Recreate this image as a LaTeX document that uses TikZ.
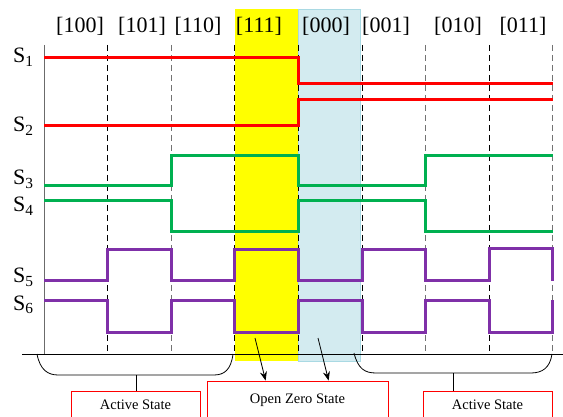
\documentclass[tikz,border=0pt]{standalone}
\usepackage{fontspec}
\setmainfont{Liberation Serif}
\usepackage{tikz}
\usetikzlibrary{
  arrows.meta,
  positioning,
  calc
}
\definecolor{swRed}{HTML}{FF0000}
\definecolor{swGreen}{HTML}{00B050}
\definecolor{swPurple}{HTML}{7F30A8}
\definecolor{swYellow}{HTML}{FFFF00}
\definecolor{swCyan}{HTML}{D3EBF0}
\definecolor{swCyanEdge}{HTML}{A9D9E3}
\definecolor{swAxis}{HTML}{6B6B6B}
\tikzset{
  sig/.style={line width=3pt, line join=miter},
  slot/.style={black, line width=0.8pt, dash pattern=on 6pt off 4pt},
  slotgray/.style={slot, black!55, line width=1.2pt},
  vec/.style={font=\fontsize{22}{26}\selectfont, anchor=base, inner sep=0pt},
  sw/.style={font=\fontsize{22}{26}\selectfont, anchor=base west, inner sep=0pt},
  statebox/.style={
    draw=swRed, line width=0.8pt, minimum height=28pt,
    font=\fontsize{14.5}{16}\selectfont, align=center
  },
  bracket/.style={line width=0.8pt, black},
  zarrow/.style={-{Stealth[length=9pt, width=7pt]}, line width=0.8pt}
}
\begin{document}
\begin{tikzpicture}[x=1pt, y=-1pt]
  \useasboundingbox (0,0) rectangle (563,417);
  \clip (0,0) rectangle (563,417);
  % zero vector intervals
  \fill[swYellow] (234.8,9) rectangle (298.4,361);
  \filldraw[fill=swCyan, draw=swCyanEdge] (298.4,9) rectangle (360,361);
  % switching instants
  \foreach \gx in {107.6,234.8,298.4,362,489.2}
    \draw[slot] (\gx,45) -- (\gx,354);
  \foreach \gx in {171.2,425.6,552.8}
    \draw[slotgray] (\gx,45) -- (\gx,354);
  \draw[swAxis, line width=1pt] (44,45) -- (44,354);
  \draw[line width=0.8pt] (22,354) -- (563,354);
  % state vectors
  \node[vec] (v100) at (80,33) {[100]};
  \node[vec] (v101) at (142,33) {[101]};
  \node[vec] (v110) at (198,33) {[110]};
  \node[vec] (v111) at (259,33) {[111]};
  \node[vec] (v000) at (326,33) {[000]};
  \node[vec] (v001) at (386,33) {[001]};
  \node[vec] (v010) at (458,33) {[010]};
  \node[vec] (v011) at (523,33) {[011]};
  % switch names
  \node[sw] (s1) at (13,63) {S\textsubscript{1}};
  \node[sw] (s2) at (13,132) {S\textsubscript{2}};
  \node[sw] (s3) at (13,185) {S\textsubscript{3}};
  \node[sw] (s4) at (13,212) {S\textsubscript{4}};
  \node[sw] (s5) at (13,283) {S\textsubscript{5}};
  \node[sw] (s6) at (13,310) {S\textsubscript{6}};
  % gate signals
  \draw[sig, swRed] (44,58) -- (298.4,58) -- (298.4,84) -- (552.8,84);
  \draw[sig, swRed] (44,126) -- (298.4,126) -- (298.4,100) -- (552.8,100);
  \draw[sig, swGreen] (44,186) -- (171.2,186) -- (171.2,156) -- (298.4,156)
    -- (298.4,186) -- (425.6,186) -- (425.6,156) -- (552.8,156);
  \draw[sig, swGreen] (44,201) -- (171.2,201) -- (171.2,232) -- (298.4,232)
    -- (298.4,201) -- (425.6,201) -- (425.6,232) -- (552.8,232);
  \draw[sig, swPurple] (44,281) -- (107.6,281) -- (107.6,250) -- (171.2,250)
    -- (171.2,281) -- (234.8,281) -- (234.8,250) -- (298.4,250) -- (298.4,281)
    -- (362,281) -- (362,250) -- (425.6,250) -- (425.6,281) -- (489.2,281)
    -- (489.2,249) -- (552.8,249) -- (552.8,281);
  \draw[sig, swPurple] (44,300) -- (107.6,300) -- (107.6,332) -- (171.2,332)
    -- (171.2,300) -- (234.8,300) -- (234.8,332) -- (298.4,332) -- (298.4,300)
    -- (362,300) -- (362,332) -- (425.6,332) -- (425.6,300) -- (489.2,300)
    -- (489.2,332) -- (552.8,332) -- (552.8,300);
  % state boxes
  \node[statebox, minimum width=129pt] (actL) at (135.5,405) {Active State};
  \node[statebox, minimum width=129pt] (actR) at (487.5,405) {Active State};
  \node[statebox, minimum width=181pt, minimum height=38pt] (ozs) at (297.5,400) {Open Zero State};
  % brackets
  \draw[bracket] (37,354) .. controls (40,370) and (48,375) .. (58,375)
    -- (214,375) .. controls (224,375) and (231,370) .. (233,354);
  \draw[bracket] (354,353) .. controls (358,369) and (365,373) .. (376,373)
    -- (531,373) .. controls (542,373) and (550,368) .. (552,354);
  \coordinate (lbr) at (136,375);
  \coordinate (rbr) at (453,373);
  \draw[bracket] (lbr) -- (lbr |- actL.north);
  \draw[bracket] (rbr) -- (rbr |- actR.north);
  % zero state arrows
  \coordinate (z1) at (255,338);
  \coordinate (z2) at (318,338);
  \draw[zarrow] (z1) -- ($(ozs.north west)+(59,0)$);
  \draw[zarrow] (z2) -- ($(ozs.north west)+(122,0)$);
\end{tikzpicture}
\end{document}
